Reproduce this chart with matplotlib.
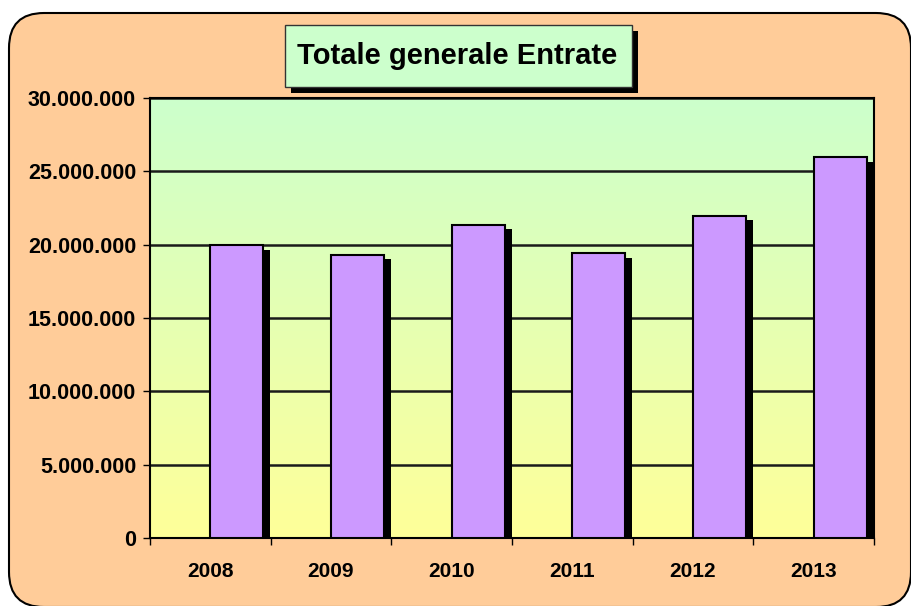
import numpy as np
import matplotlib
matplotlib.use("Agg")
import matplotlib.pyplot as plt
import matplotlib.patheffects as pe
from matplotlib.patches import FancyBboxPatch, Rectangle
from matplotlib.colors import LinearSegmentedColormap
from matplotlib.ticker import FuncFormatter

years = ["2008", "2009", "2010", "2011", "2012", "2013"]
entrate = [19950000, 19300000, 21350000, 19400000, 21950000, 25950000]
title = "Totale generale Entrate"

plt.rcParams['font.family'] = ['Liberation Sans', 'DejaVu Sans']
plt.rcParams['font.weight'] = 'bold'

W, H = 912, 606
fig = plt.figure(figsize=(W / 100, H / 100), dpi=100)
fig.patch.set_facecolor('white')

def px(x, y):
    # pixel position (from top-left) -> inches
    return x / 100, (H - y) / 100

# rounded peach background
bx, by = px(9, 607)
bg = FancyBboxPatch((bx, by), (911 - 9) / 100, (607 - 13) / 100,
                    boxstyle="round,pad=0,rounding_size=0.35",
                    transform=fig.dpi_scale_trans, facecolor='#FFCC99',
                    edgecolor='black', linewidth=1.5, zorder=0)
fig.patches.append(bg)

# title box with shadow
sx, sy = px(291, 93)
fig.patches.append(Rectangle((sx, sy), (638 - 291) / 100, (93 - 31) / 100,
                             transform=fig.dpi_scale_trans, facecolor='black',
                             edgecolor='none', zorder=1))
tx, ty = px(285, 87)
fig.patches.append(Rectangle((tx, ty), (632 - 285) / 100, (87 - 25) / 100,
                             transform=fig.dpi_scale_trans, facecolor='#CCFFCC',
                             edgecolor='#333333', linewidth=1, zorder=2))
cx, cy = px(457, 56)
fig.text(cx / (W / 100), cy / (H / 100), title, ha='center', va='center',
         fontsize=21, fontweight='bold', zorder=3)

ax = fig.add_axes([150 / W, 68 / H, 724 / W, 440 / H])
ax.set_zorder(2)

x = np.arange(len(years))
ax.set_xlim(-0.5, len(years) - 0.5)
ax.set_ylim(0, 30000000)

# gradient plot area: green top -> yellow bottom
cmap = LinearSegmentedColormap.from_list('bgg', ['#FFFF99', '#CCFFCC'])
grad = np.linspace(0, 1, 256).reshape(-1, 1)
ax.imshow(grad, cmap=cmap, aspect='auto', origin='lower',
          extent=(-0.5, len(years) - 0.5, 0, 30000000), zorder=0)

ax.set_yticks(np.arange(0, 30000001, 5000000))
ax.yaxis.grid(True, color='#1a1a1a', linewidth=1.8, zorder=1)
ax.set_axisbelow(True)

bars = ax.bar(x, entrate, width=0.44, align='edge', color='#CC99FF',
              edgecolor='black', linewidth=1.5, zorder=3)
for b in bars:
    b.set_path_effects([pe.SimplePatchShadow(offset=(5, -3), shadow_rgbFace='black', alpha=1.0),
                        pe.Normal()])

ax.yaxis.set_major_formatter(FuncFormatter(lambda v, p: f"{int(v):,}".replace(",", ".")))
ax.tick_params(axis='y', length=5, width=1, pad=5, labelsize=15.5)

ax.set_xticks(x)
ax.set_xticklabels(years)
ax.set_xticks(np.arange(-0.5, len(years)), minor=True)
ax.tick_params(axis='x', which='major', length=0, pad=17, labelsize=15)
ax.tick_params(axis='x', which='minor', length=5, width=1)
for lab in ax.get_xticklabels() + ax.get_yticklabels():
    lab.set_fontweight('bold')

for s in ax.spines.values():
    s.set_linewidth(1.5)
    s.set_color('black')

fig.savefig('out.png', dpi=100)
